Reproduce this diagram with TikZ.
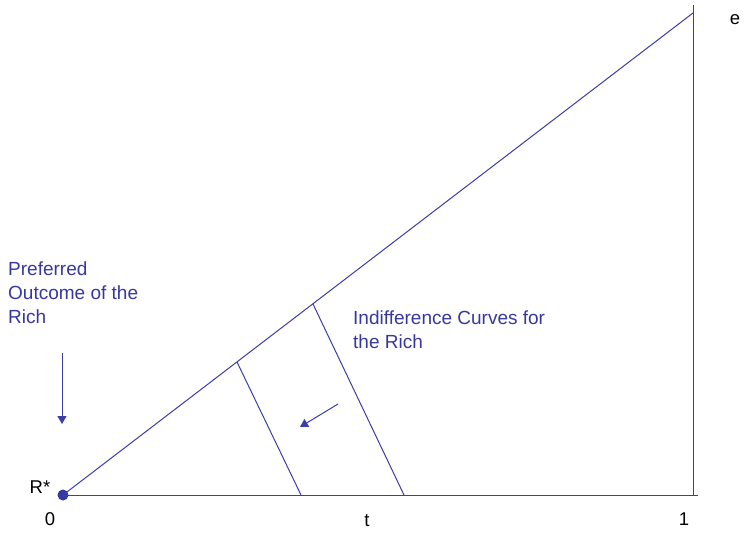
\documentclass[tikz,border=0pt]{standalone}
\usepackage{fontspec}
\setmainfont{Liberation Sans}
\usetikzlibrary{arrows.meta}
\definecolor{lineblue}{RGB}{60,60,170}
\definecolor{textblue}{RGB}{55,55,160}
\tikzset{
  axis/.style={draw=lineblue, line width=1pt},
  curve/.style={draw=lineblue, line width=1pt},
  pointer/.style={draw=lineblue, line width=1pt, -{Triangle[length=8pt,width=9pt]}},
  bluetext/.style={text=textblue, font=\fontsize{19}{23.7}\selectfont, align=left, anchor=north west, inner sep=0pt},
  axlabel/.style={text=black, font=\fontsize{18.5}{22}\selectfont, inner sep=0pt},
}
\begin{document}
\begin{tikzpicture}[x=1pt,y=-1pt]
\useasboundingbox (0,0) rectangle (754,535);
% key points
\node[circle, fill=textblue, minimum width=10pt, minimum height=11pt, inner sep=0pt] (O) at (63,495) {};
\coordinate (E) at (693,13);
\coordinate (Top) at (693,5);
\coordinate (B) at (693,495);
\coordinate (Bend) at (698,495);
% axes
\draw[axis] (O.center) -- (Bend);
\draw[axis] (Top) -- (B);
\draw[axis] (O.center) -- (E);
% indifference curves
\coordinate (I1a) at (237,362);
\coordinate (I1b) at (301,495);
\coordinate (I2a) at (313,304);
\coordinate (I2b) at (404,495);
\draw[curve] (I1a) -- (I1b);
\draw[curve] (I2a) -- (I2b);
% arrows
\coordinate (A1s) at (62,353);
\coordinate (A1e) at (62,424);
\draw[pointer] (A1s) -- (A1e);
\coordinate (A2s) at (338,404);
\coordinate (A2e) at (300,427);
\draw[pointer] (A2s) -- (A2e);
% texts
\node[bluetext] (pref) at (8,262) {Preferred\\Outcome of the\\Rich};
\node[bluetext] (ind) at (353,311) {Indifference Curves for\\the Rich};
\node[axlabel] (elab) at (735,20) {e};
\node[axlabel] (rstar) at (40,487) {R*};
\node[axlabel] (zero) at (50,519) {0};
\node[axlabel] (tlab) at (367,521) {t};
\node[axlabel] (one) at (684,519) {1};
\end{tikzpicture}
\end{document}
